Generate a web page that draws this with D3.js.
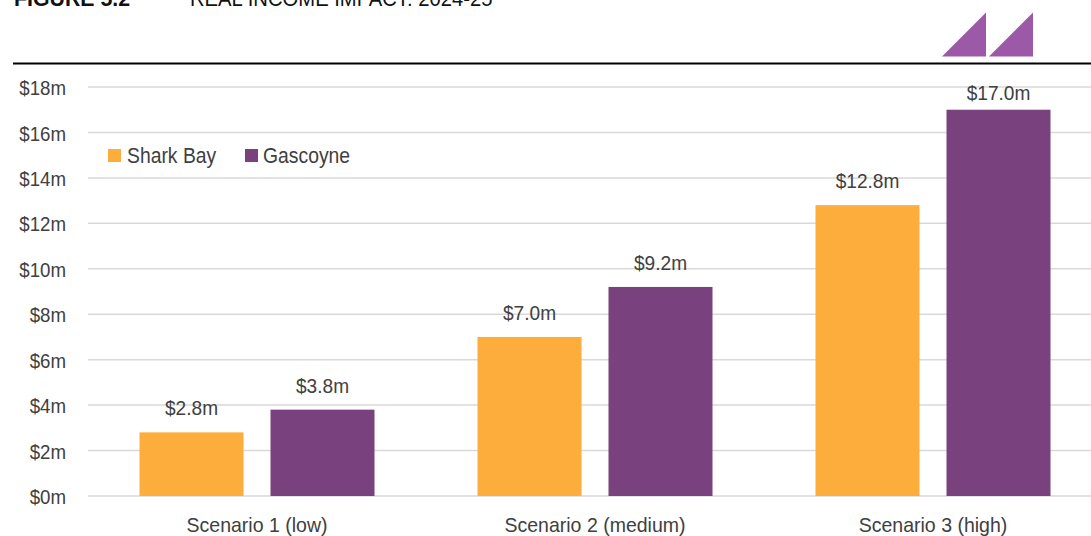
<!DOCTYPE html>
<html><head><meta charset="utf-8">
<script src="https://cdn.jsdelivr.net/npm/d3@7"></script>
<style>
body{margin:0;background:#fff;}
svg{display:block;}
text{font-family:"Liberation Sans Narrow","Arial Narrow","Liberation Sans",Arial,sans-serif;}
</style></head>
<body>
<svg id="c" width="1091" height="536"></svg>
<script>
const categories = ["Scenario 1 (low)", "Scenario 2 (medium)", "Scenario 3 (high)"];
const seriesNames = ["Shark Bay", "Gascoyne"];
const sharkBay = [2.8, 7.0, 12.8];
const gascoyne = [3.8, 9.2, 17.0];
const yTicks = [0, 2, 4, 6, 8, 10, 12, 14, 16, 18];
const colors = ["#FDAD3B", "#79417D"];

const svg = d3.select("#c");
const textCol = "#404040";
const SX = 0.89;

function txt(parent, x, y, s, size, sx, anchor, fill, weight) {
  return parent.append("text")
    .attr("transform", `translate(${x},${y}) scale(${sx},1)`)
    .attr("text-anchor", anchor || "start")
    .attr("font-size", size)
    .attr("font-weight", weight || "normal")
    .attr("fill", fill || textCol)
    .text(s);
}

// title (cut off at top)
txt(svg, 14, 6, "FIGURE 5.2", 22, 0.97, "start", "#111", "bold");
txt(svg, 190, 6, "REAL INCOME IMPACT: 2024-25", 22, 0.92, "start", "#111");

// logo
[942, 989].forEach(x0 => {
  svg.append("path").attr("d", `M${x0},56.5 L${x0+44},56.5 L${x0+44},12.5 Z`).attr("fill", "#9C59A7");
});
svg.append("line").attr("x1", 13).attr("x2", 1091).attr("y1", 63.5).attr("y2", 63.5).attr("stroke", "#000").attr("stroke-width", 2);

const x = d3.scaleBand().domain(categories).range([88, 1102]);
const y = d3.scaleLinear().domain([0, 18]).range([496, 87]);
const barW = 104, gap = 27;
const inner = d3.scaleBand().domain(seriesNames).range([0, 2*barW+gap]).paddingInner(gap/(barW+gap)).paddingOuter(0);

// gridlines
svg.append("g").selectAll("line").data(yTicks).join("line")
  .attr("x1", 88).attr("x2", 1091)
  .attr("y1", d => y(d)).attr("y2", d => y(d))
  .attr("stroke", "#d9d9d9").attr("stroke-width", 1.5);

// y axis labels
const yAxis = d3.axisLeft(y).tickValues(yTicks).tickSize(0).tickPadding(0).tickFormat(d => "$" + d + "m");
const ya = svg.append("g").attr("transform", "translate(66,0)").call(yAxis);
ya.select(".domain").remove();
ya.attr("font-family", null);
ya.selectAll("text").attr("font-size", 21).attr("fill", textCol)
  .attr("x", 0).attr("dy", "0.36em")
  .attr("transform", `scale(${SX},1)`);

// x axis labels
const xAxis = d3.axisBottom(x).tickSize(0).tickPadding(0);
const xa = svg.append("g").attr("transform", "translate(0,532)").call(xAxis);
xa.select(".domain").remove();
xa.attr("font-family", null);
xa.selectAll("text").attr("font-size", 21).attr("fill", textCol)
  .attr("y", 0).attr("dy", 0)
  .attr("transform", `scale(0.93,1)`);

const data = [sharkBay, gascoyne];
const groupOff = (x.bandwidth() - (2*barW+gap)) / 2;
seriesNames.forEach((s, si) => {
  const g = svg.append("g");
  g.selectAll("rect").data(categories).join("rect")
    .attr("x", (c) => x(c) + groupOff + inner(s))
    .attr("width", inner.bandwidth())
    .attr("y", (c, i) => y(data[si][i]))
    .attr("height", (c, i) => y(0) - y(data[si][i]))
    .attr("fill", colors[si]);
  categories.forEach((c, i) => {
    const v = data[si][i];
    const lx = x(c) + groupOff + inner(s) + inner.bandwidth()/2;
    const ly = Math.max(y(v) - 17, 100);
    txt(g, lx, ly, "$" + v.toFixed(1) + "m", 21, 0.91, "middle");
  });
});

// legend
const leg = [[108, 127], [245, 263]];
seriesNames.forEach((s, i) => {
  svg.append("rect").attr("x", leg[i][0]).attr("y", 149).attr("width", 13).attr("height", 13).attr("fill", colors[i]);
  txt(svg, leg[i][1], 162.5, s, 22.5, 0.86, "start");
});
</script>
</body></html>
